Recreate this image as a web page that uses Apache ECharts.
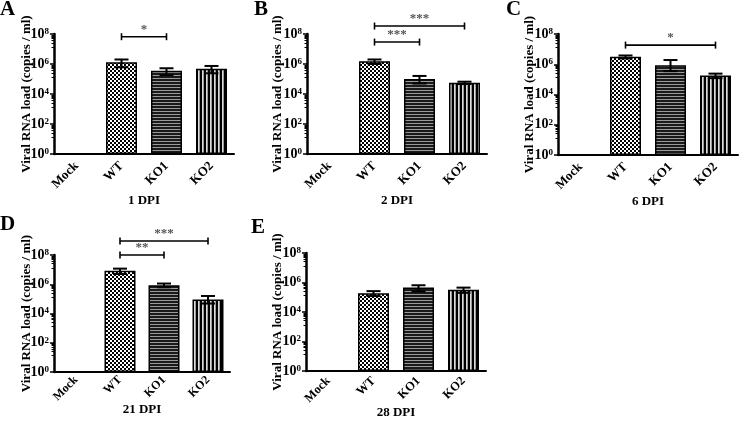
<!DOCTYPE html>
<html><head><meta charset="utf-8">
<script src="https://cdn.jsdelivr.net/npm/echarts@6/dist/echarts.min.js"></script>
<style>html,body{margin:0;padding:0;background:#fff}#c{width:740px;height:425px}</style>
</head><body><div id="c"></div>
<script>
const categories = ['Mock', 'WT', 'KO1', 'KO2'];
const panelLetters = ['A', 'B', 'C', 'D', 'E'];
const dpiLabels = ['1 DPI', '2 DPI', '6 DPI', '21 DPI', '28 DPI'];
const yAxisTitle = 'Viral RNA load (copies / ml)';

// mean values (copies/ml); Mock has no bar
const meanA = [null, 1.3e6, 3.5e5, 4.9e5];
const highA = [null, 2.0e6, 5.2e5, 7.4e5];
const lowA  = [null, 6.0e5, 1.8e5, 2.4e5];
const sigA  = [['WT', 'KO1', 6.6e7, '*']];

const meanB = [null, 1.5e6, 1.0e5, 5.6e4];
const highB = [null, 2.0e6, 1.6e5, 6.6e4];
const lowB  = [null, 1.0e6, 5.0e4, 4.6e4];
const sigB  = [['WT', 'KO2', 3.4e8, '***'], ['WT', 'KO1', 2.9e7, '***']];

const meanC = [null, 3.1e6, 8.5e5, 1.8e5];
const highC = [null, 3.8e6, 1.9e6, 2.4e5];
const lowC  = [null, 2.4e6, 3.5e5, 1.2e5];
const sigC  = [['WT', 'KO2', 1.85e7, '*']];

const meanD = [null, 8.3e6, 8.7e5, 9.0e4];
const highD = [null, 1.17e7, 1.12e6, 1.58e5];
const lowD  = [null, 5.0e6, 6.2e5, 4.8e4];
const sigD  = [['WT', 'KO2', 9e8, '***'], ['WT', 'KO1', 1e8, '**']];

const meanE = [null, 1.9e5, 4.5e5, 3.2e5];
const highE = [null, 2.6e5, 6.5e5, 4.5e5];
const lowE  = [null, 1.2e5, 2.5e5, 2.0e5];
const sigE  = [];

const FONT = 'Liberation Serif';

const panels = [
  {mean: meanA, high: highA, low: lowA, sig: sigA, grid: {left: 54, top: 34, width: 180, height: 120}, xGap: 40, yGap: 21, lblSize: 13, lblMargin: 10, letter: {left: 0, top: -1}},
  {mean: meanB, high: highB, low: lowB, sig: sigB, grid: {left: 307, top: 34, width: 180, height: 120}, xGap: 40, yGap: 23, lblSize: 13, lblMargin: 10, letter: {left: 254, top: -1}},
  {mean: meanC, high: highC, low: lowC, sig: sigC, grid: {left: 558, top: 34, width: 180, height: 121}, xGap: 40, yGap: 22, lblSize: 13, lblMargin: 10, letter: {left: 506, top: -1}},
  {mean: meanD, high: highD, low: lowD, sig: sigD, grid: {left: 54, top: 255, width: 176, height: 117}, xGap: 31, yGap: 21, lblSize: 12, lblMargin: 6, letter: {left: 0, top: 214}},
  {mean: meanE, high: highE, low: lowE, sig: sigE, grid: {left: 306, top: 253, width: 180, height: 118}, xGap: 35, yGap: 22, lblSize: 12.5, lblMargin: 8, letter: {left: 251, top: 217}}
];

function makeCanvas(w, h, draw) {
  const c = document.createElement('canvas');
  c.width = w; c.height = h;
  draw(c.getContext('2d'));
  return c;
}
const checker = makeCanvas(4, 4, g => {
  g.fillStyle = '#fff'; g.fillRect(0, 0, 4, 4);
  g.fillStyle = '#000'; g.fillRect(0, 0, 2, 2); g.fillRect(2, 2, 2, 2);
});
const hStripe = makeCanvas(3, 3, g => {
  g.fillStyle = '#1a1a1a'; g.fillRect(0, 0, 3, 3);
  g.fillStyle = '#9a9a9a'; g.fillRect(0, 0, 3, 1);
});
const vStripe = makeCanvas(4, 4, g => {
  g.fillStyle = '#000'; g.fillRect(0, 0, 4, 4);
  g.fillStyle = '#ddd'; g.fillRect(2, 0, 1, 4);
  g.fillStyle = '#999'; g.fillRect(3, 0, 1, 4);
});
const patterns = [null, {image: checker, repeat: 'repeat'}, {image: hStripe, repeat: 'repeat'}, {image: vStripe, repeat: 'repeat'}];

const grids = [], xAxes = [], yAxes = [], series = [], titles = [];

panels.forEach((p, i) => {
  grids.push(Object.assign({containLabel: false}, p.grid));
  titles.push({text: panelLetters[i], left: p.letter.left, top: p.letter.top, padding: 0,
    textStyle: {fontFamily: FONT, fontWeight: 'bold', fontSize: 21, color: '#000'}});
  xAxes.push({
    type: 'category', gridIndex: i, data: categories,
    axisLine: {lineStyle: {color: '#000', width: 2}},
    axisTick: {alignWithLabel: true, length: 4, lineStyle: {color: '#000', width: 1.5}},
    axisLabel: {rotate: 45, fontFamily: FONT, fontWeight: 'bold', fontSize: p.lblSize, color: '#000', margin: p.lblMargin, interval: 0},
    name: dpiLabels[i], nameLocation: 'middle', nameGap: p.xGap, nameMoveOverlap: false,
    nameTextStyle: {fontFamily: FONT, fontWeight: 'bold', fontSize: 13, color: '#000'}
  });
  yAxes.push({
    type: 'log', logBase: 10, gridIndex: i, min: 1, max: 1e8, interval: 2,
    axisLine: {show: true, lineStyle: {color: '#000', width: 2.5}},
    axisTick: {show: true, length: 4, lineStyle: {color: '#000', width: 1.5}},
    minorTick: {show: true, splitNumber: 8, length: 2.5, lineStyle: {color: '#000', width: 1}},
    splitLine: {show: false},
    axisLabel: {
      margin: 5,
      formatter: v => '{b|10}{s|' + Math.round(Math.log10(v)) + '}',
      rich: {
        b: {fontFamily: FONT, fontWeight: 'bold', fontSize: 14, color: '#000', lineHeight: 14, verticalAlign: 'bottom'},
        s: {fontFamily: FONT, fontWeight: 'bold', fontSize: 9, color: '#000', lineHeight: 14, verticalAlign: 'top'}
      }
    },
    name: yAxisTitle, nameLocation: 'middle', nameGap: p.yGap, nameMoveOverlap: false,
    nameTextStyle: {fontFamily: FONT, fontWeight: 'bold', fontSize: 13, color: '#000'}
  });
  series.push({
    type: 'bar', xAxisIndex: i, yAxisIndex: i, barWidth: 31,
    itemStyle: {borderColor: '#000', borderWidth: 1.5},
    data: p.mean.map((v, j) => v == null ? '-' : {value: v, itemStyle: {color: patterns[j]}}),
    z: 2
  });
  series.push({
    type: 'custom', xAxisIndex: i, yAxisIndex: i, z: 3, clip: false,
    encode: {x: 0, y: [1, 2]},
    data: p.mean.map((v, j) => v == null ? null : [j, p.low[j], p.high[j]]).filter(d => d),
    renderItem: (params, api) => {
      const x = api.value(0);
      const lo = api.coord([x, api.value(1)]);
      const hi = api.coord([x, api.value(2)]);
      const hw = 7;
      const st = {stroke: '#000', lineWidth: 2};
      return {type: 'group', children: [
        {type: 'line', shape: {x1: lo[0], y1: lo[1], x2: hi[0], y2: hi[1]}, style: st},
        {type: 'line', shape: {x1: hi[0] - hw, y1: hi[1], x2: hi[0] + hw, y2: hi[1]}, style: st},
        {type: 'line', shape: {x1: lo[0] - hw, y1: lo[1], x2: lo[0] + hw, y2: lo[1]}, style: st}
      ]};
    }
  });
  if (p.sig.length) {
    const sig = p.sig;
    series.push({
      type: 'custom', xAxisIndex: i, yAxisIndex: i, z: 4, clip: false,
      encode: {x: [0, 1], y: 2},
      data: sig.map(s => [categories.indexOf(s[0]), categories.indexOf(s[1]), s[2]]),
      renderItem: (params, api) => {
        const a = api.coord([api.value(0), api.value(2)]);
        const b = api.coord([api.value(1), api.value(2)]);
        const st = {stroke: '#000', lineWidth: 1.6};
        return {type: 'group', children: [
          {type: 'line', shape: {x1: a[0], y1: a[1], x2: b[0], y2: b[1]}, style: st},
          {type: 'line', shape: {x1: a[0], y1: a[1] - 3.5, x2: a[0], y2: a[1] + 3.5}, style: st},
          {type: 'line', shape: {x1: b[0], y1: b[1] - 3.5, x2: b[0], y2: b[1] + 3.5}, style: st},
          {type: 'text', style: {text: sig[params.dataIndex][3], x: (a[0] + b[0]) / 2, y: a[1] - 1,
            align: 'center', verticalAlign: 'bottom', fill: '#555',
            font: 'bold 13px "Liberation Serif"'}}
        ]};
      }
    });
  }
});

const chart = echarts.init(document.getElementById('c'), null, {renderer: 'canvas'});
chart.setOption({
  animation: false,
  backgroundColor: '#fff',
  title: titles,
  grid: grids,
  xAxis: xAxes,
  yAxis: yAxes,
  series: series
});
</script>
</body></html>
